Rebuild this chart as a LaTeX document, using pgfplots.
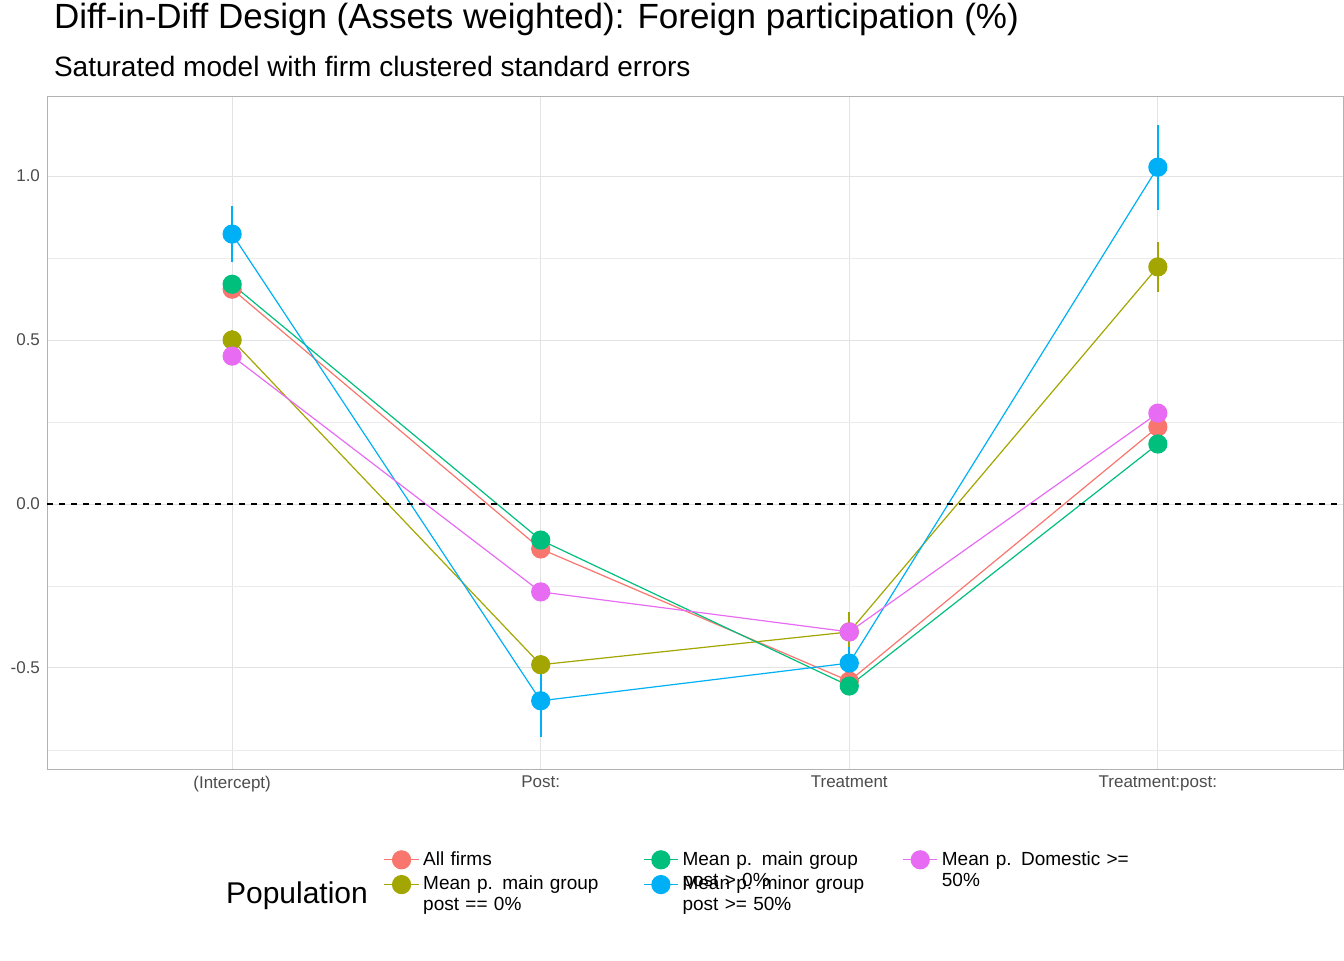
\documentclass[border=0pt]{standalone}
\usepackage{pgfplots}
\pgfplotsset{compat=1.18}
\usepackage{fontspec}
\setmainfont{Liberation Sans}
\definecolor{cR}{HTML}{F8766D}
\definecolor{cO}{HTML}{A3A500}
\definecolor{cG}{HTML}{00BF7D}
\definecolor{cB}{HTML}{00B0F6}
\definecolor{cP}{HTML}{E76BF3}
\begin{document}
\begin{tikzpicture}
\path[use as bounding box] (-23.5pt,-95.5pt) rectangle (648.5pt,384.5pt);
\node[anchor=base west,font=\fontsize{17.5}{20}\selectfont] at (0pt,370pt) {Diff-in-Diff Design (Assets weighted): Foreign participation (\%)};
\node[anchor=base west,font=\fontsize{14}{16}\selectfont] at (0pt,346pt) {Saturated model with firm clustered standard errors};
\begin{axis}[at={(0,0)},anchor=south west,scale only axis,width=648pt,height=336.5pt,
 xmin=-0.6,xmax=3.6,ymin=-0.808,ymax=1.244,
 xtick={0,1,2,3},xticklabels={(Intercept),Post:,Treatment,Treatment:post:},
 ytick={-0.5,0,0.5,1},yticklabels={-0.5,0.0,0.5,1.0},
 minor ytick={-0.75,-0.25,0.25,0.75},
 grid=both,major grid style={gray!22,line width=0.5pt},minor grid style={gray!15,line width=0.4pt},
 axis line style={gray!60},tick style={draw=none},
 ticklabel style={font=\fontsize{8.5}{10}\selectfont,text=black!70},
 /pgf/number format/assume math mode=true,
 legend style={at={(0.255,-0.11)},anchor=north west,draw=none,fill=none,
   font=\fontsize{9.5}{10.5}\selectfont,nodes={align=left,text width=100pt},
   /tikz/every even column/.append style={column sep=8pt}},
 legend cell align=left,transpose legend,legend columns=2,
 every axis plot/.append style={line width=0.6pt,mark=*,mark size=4.5pt},
 clip=false]
\pgfplotsset{myerr/.style={error bars/y dir=both,error bars/y explicit,error bars/error mark=none,error bars/error bar style={line width=0.8pt}}}
\addplot[cR,mark options={fill=cR,draw=cR},myerr] table[x=x,y=y,y error=e]{
x y e
0 0.655 0.02
1 -0.137 0.02
2 -0.54 0.02
3 0.235 0.02
};
\addlegendentry{All firms}
\addplot[cO,mark options={fill=cO,draw=cO},myerr] table[x=x,y=y,y error=e]{
x y e
0 0.50 0.03
1 -0.49 0.03
2 -0.39 0.06
3 0.723 0.076
};
\addlegendentry{Mean p. main group\\post == 0\%}
\addplot[cG,mark options={fill=cG,draw=cG},myerr] table[x=x,y=y,y error=e]{
x y e
0 0.67 0.02
1 -0.11 0.02
2 -0.555 0.02
3 0.183 0.02
};
\addlegendentry{Mean p. main group\\post > 0\%}
\addplot[cB,mark options={fill=cB,draw=cB},myerr] table[x=x,y=y,y error=e]{
x y e
0 0.823 0.085
1 -0.60 0.11
2 -0.485 0.05
3 1.027 0.13
};
\addlegendentry{Mean p. minor group\\post >= 50\%}
\addplot[cP,mark options={fill=cP,draw=cP},myerr] table[x=x,y=y,y error=e]{
x y e
0 0.451 0.02
1 -0.268 0.02
2 -0.39 0.02
3 0.277 0.02
};
\addlegendentry{Mean p. Domestic >=\\50\%}
\draw[black,dashed,line width=0.7pt] (axis cs:-0.6,0) -- (axis cs:3.6,0);
\end{axis}
\node[anchor=base west,font=\fontsize{15}{17}\selectfont] at (86pt,-67pt) {Population};
\end{tikzpicture}
\end{document}
